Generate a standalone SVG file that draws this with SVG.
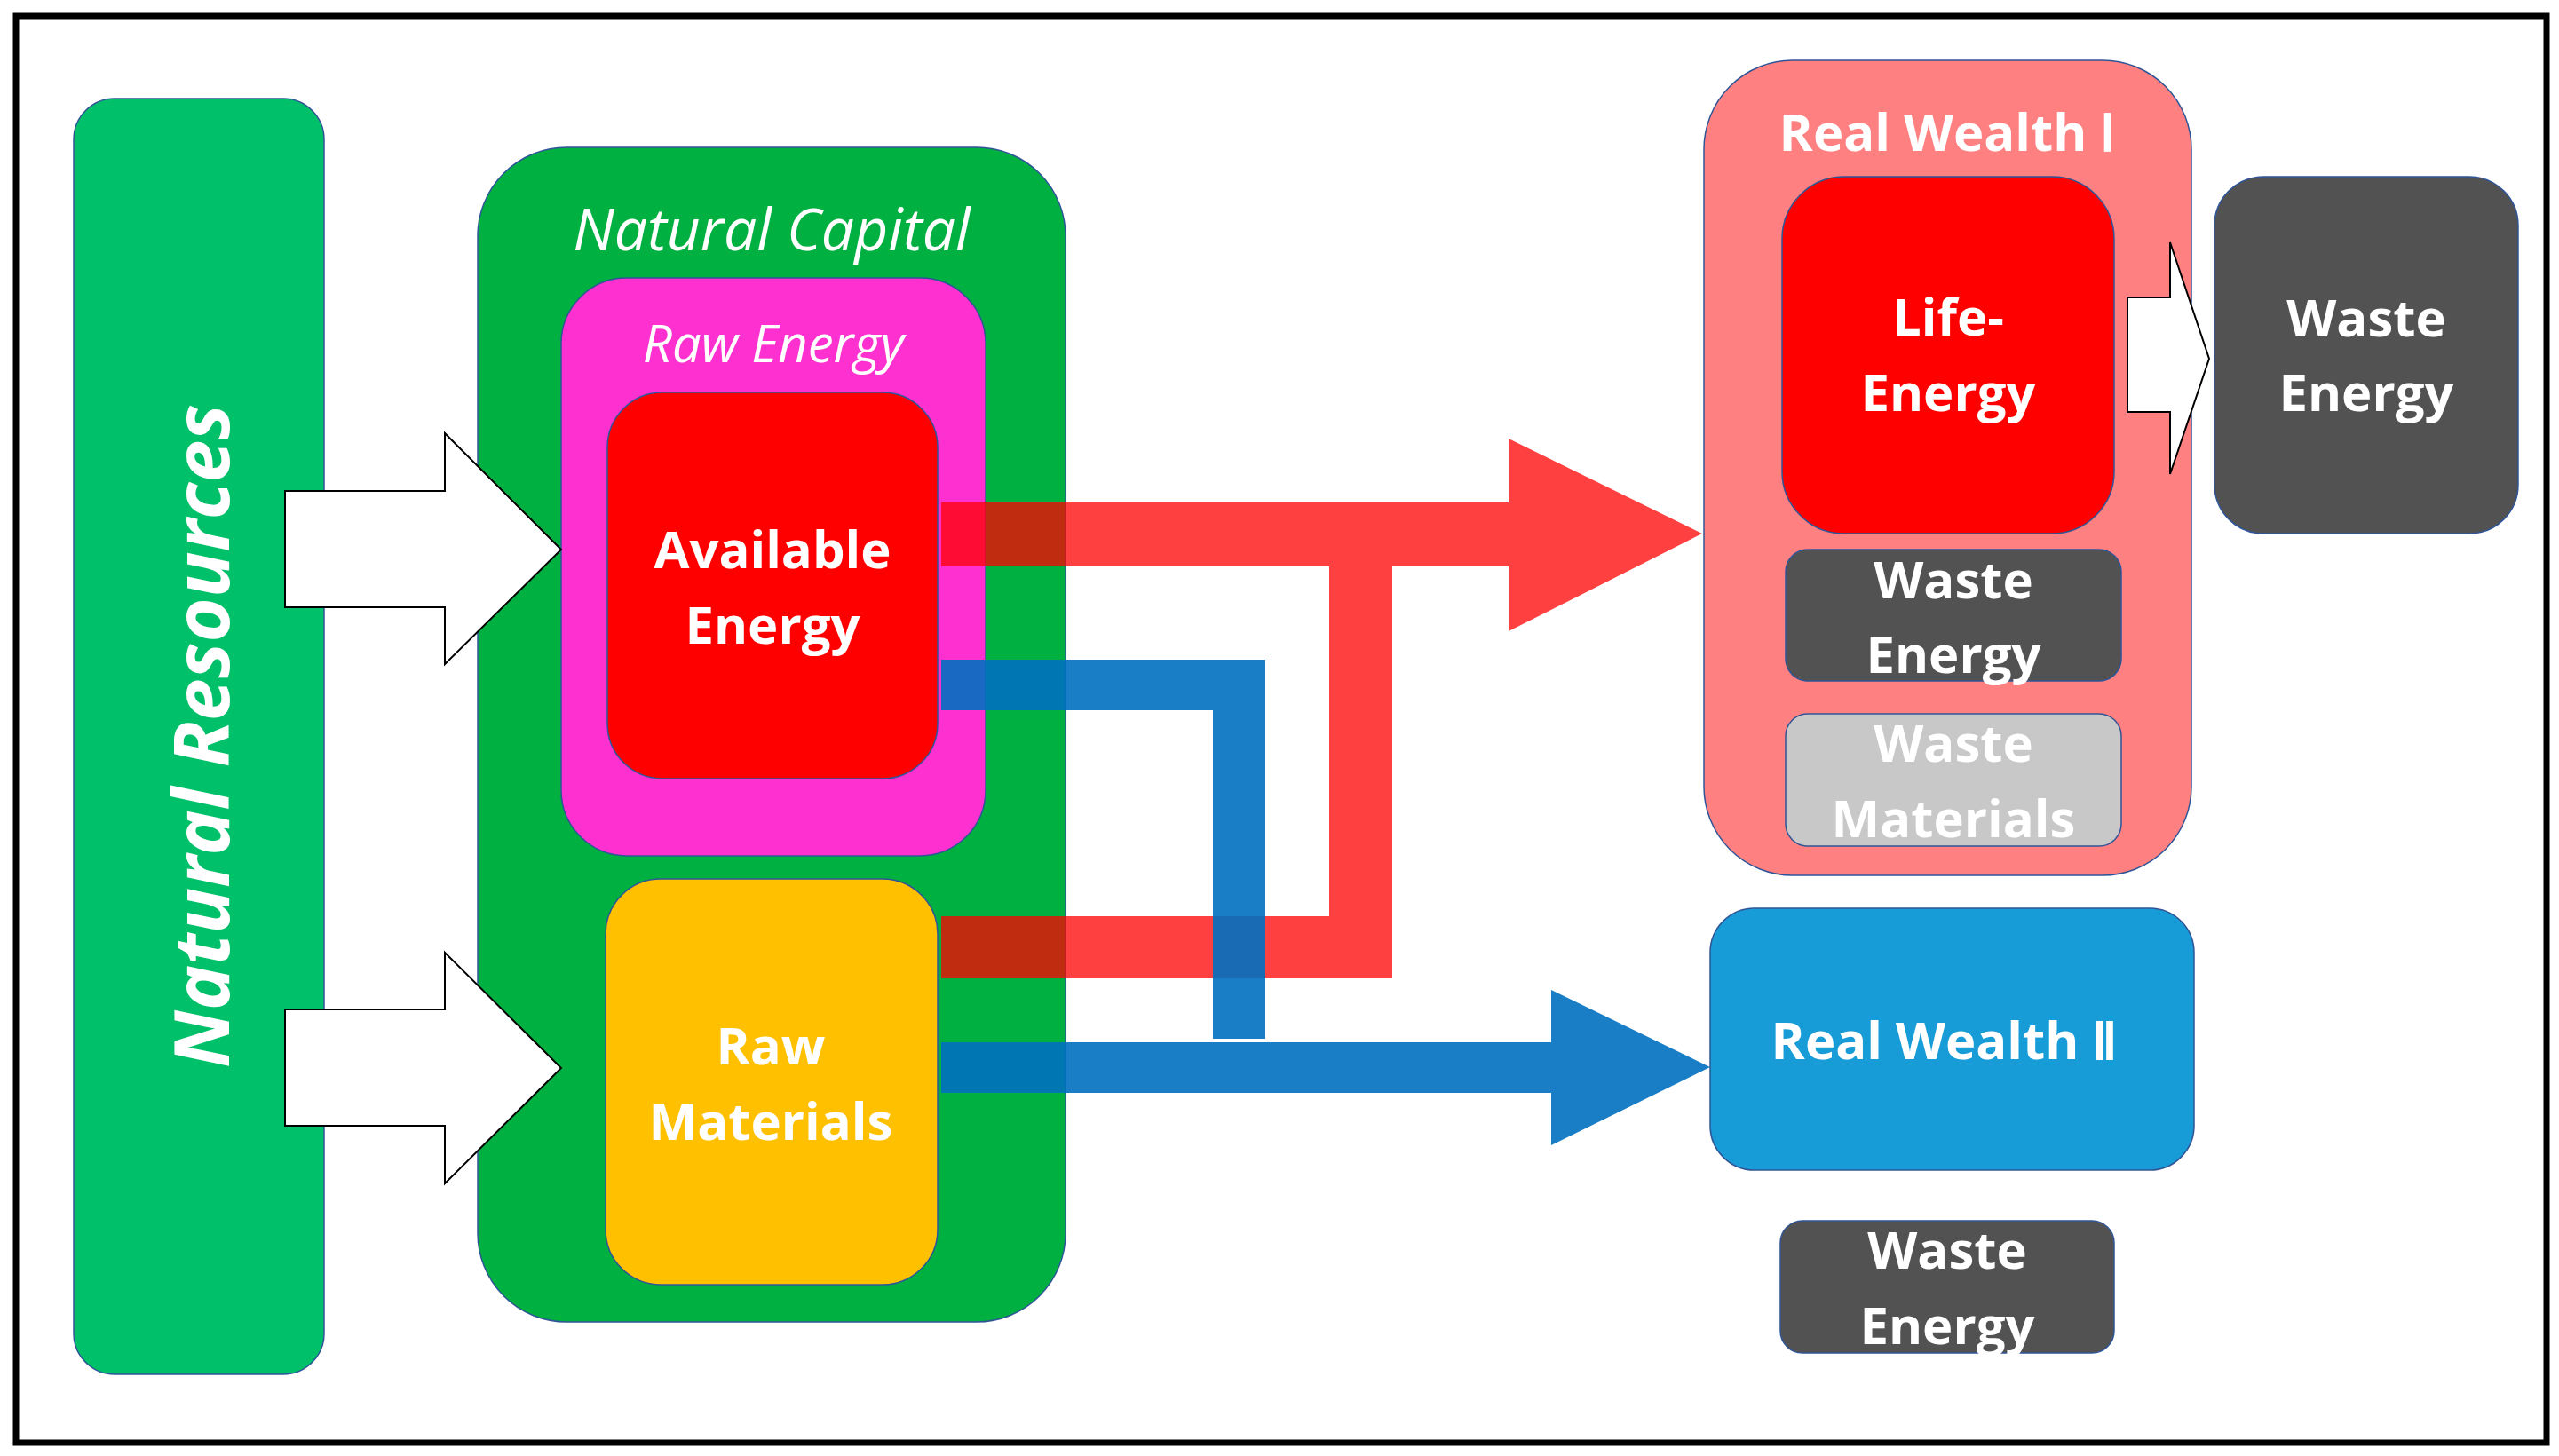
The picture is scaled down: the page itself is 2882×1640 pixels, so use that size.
<svg xmlns="http://www.w3.org/2000/svg" width="2882" height="1640" viewBox="0 0 2882 1640">
<style>
.b{font-family:"Open Sans","Liberation Sans",sans-serif;font-weight:bold;fill:#fff;text-anchor:middle;font-size:58px}
.i{font-family:"Open Sans","Liberation Sans",sans-serif;font-style:italic;fill:#fff;text-anchor:middle}
.ol{stroke:#2f5597;stroke-width:1.5}
.wa{fill:#fff;stroke:#000;stroke-width:2}
</style>
<rect x="0" y="0" width="2882" height="1640" fill="#fff"/>
<rect x="18" y="18" width="2850" height="1607" fill="none" stroke="#000" stroke-width="7"/>
<g id="natural-resources"><rect x="83" y="111" width="282" height="1437" rx="46" fill="#00c06a" class="ol"/>
<text class="i" font-weight="bold" font-size="86" transform="translate(258,829) rotate(-90)">Natural Resources</text></g>
<g id="natural-capital"><rect x="538" y="166" width="662" height="1323" rx="100" fill="#00b040" class="ol"/>
<text class="i" x="869" y="282" font-size="66">Natural Capital</text></g>
<g id="raw-energy"><rect x="632" y="313" width="478" height="651" rx="74" fill="#ff30d0" class="ol"/>
<text class="i" x="871" y="408" font-size="58">Raw Energy</text></g>
<g id="available-energy"><rect x="684" y="442" width="372" height="435" rx="62" fill="#ff0000" class="ol"/>
<text class="b" x="870" y="640">Available</text><text class="b" x="870" y="725">Energy</text></g>
<g id="raw-materials"><rect x="682" y="990" width="374" height="457" rx="62" fill="#ffc000" class="ol"/>
<text class="b" x="868" y="1199">Raw</text><text class="b" x="868" y="1284">Materials</text></g>
<g id="real-wealth-1"><rect x="1919" y="68" width="549" height="918" rx="100" fill="#ff8080" class="ol"/>
<text class="b" x="2193" y="170">Real Wealth  Ⅰ</text></g>
<g id="life-energy"><rect x="2007" y="199" width="374" height="402" rx="70" fill="#ff0000" class="ol"/>
<text class="b" x="2194" y="378">Life-</text><text class="b" x="2194" y="463">Energy</text></g>
<g id="waste-energy-1"><rect x="2011" y="619" width="378" height="148" rx="25" fill="#525252" class="ol"/>
<text class="b" x="2200" y="674">Waste</text><text class="b" x="2200" y="758">Energy</text></g>
<g id="waste-materials"><rect x="2011" y="804" width="378" height="149" rx="25" fill="#c8c8c8" class="ol"/>
<text class="b" x="2200" y="858">Waste</text><text class="b" x="2200" y="943">Materials</text></g>
<g id="waste-energy-2"><rect x="2494" y="199" width="342" height="402" rx="55" fill="#525252" class="ol"/>
<text class="b" x="2665" y="379">Waste</text><text class="b" x="2665" y="463">Energy</text></g>
<g id="real-wealth-2"><rect x="1926" y="1023" width="545" height="295" rx="50" fill="#179cd8" class="ol"/>
<text class="b" x="2190" y="1193">Real Wealth  Ⅱ</text></g>
<g id="waste-energy-3"><rect x="2005" y="1375" width="376" height="149" rx="25" fill="#525252" class="ol"/>
<text class="b" x="2193" y="1429">Waste</text><text class="b" x="2193" y="1514">Energy</text></g>
<g id="connectors">
<polygon class="wa" points="321,553 501,553 501,488 632,619 501,748 501,684 321,684"/>
<polygon class="wa" points="321,1137 501,1137 501,1073 632,1203 501,1333 501,1268 321,1268"/>
<polygon class="wa" points="2396,335 2444,335 2444,273 2488,404 2444,534 2444,464 2396,464"/>
<g fill="#ff0000" fill-opacity="0.75">
<polygon points="1060,566 1699,566 1699,494 1917,601 1699,711 1699,638 1060,638"/>
<polygon points="1060,1032 1497,1032 1497,638 1568,638 1568,1102 1060,1102"/>
</g>
<g fill="#0070c0" fill-opacity="0.9">
<polygon points="1060,743 1425,743 1425,1170 1366,1170 1366,800 1060,800"/>
<polygon points="1060,1174 1747,1174 1747,1115 1926,1202 1747,1290 1747,1231 1060,1231"/>
</g>
</g>
</svg>
